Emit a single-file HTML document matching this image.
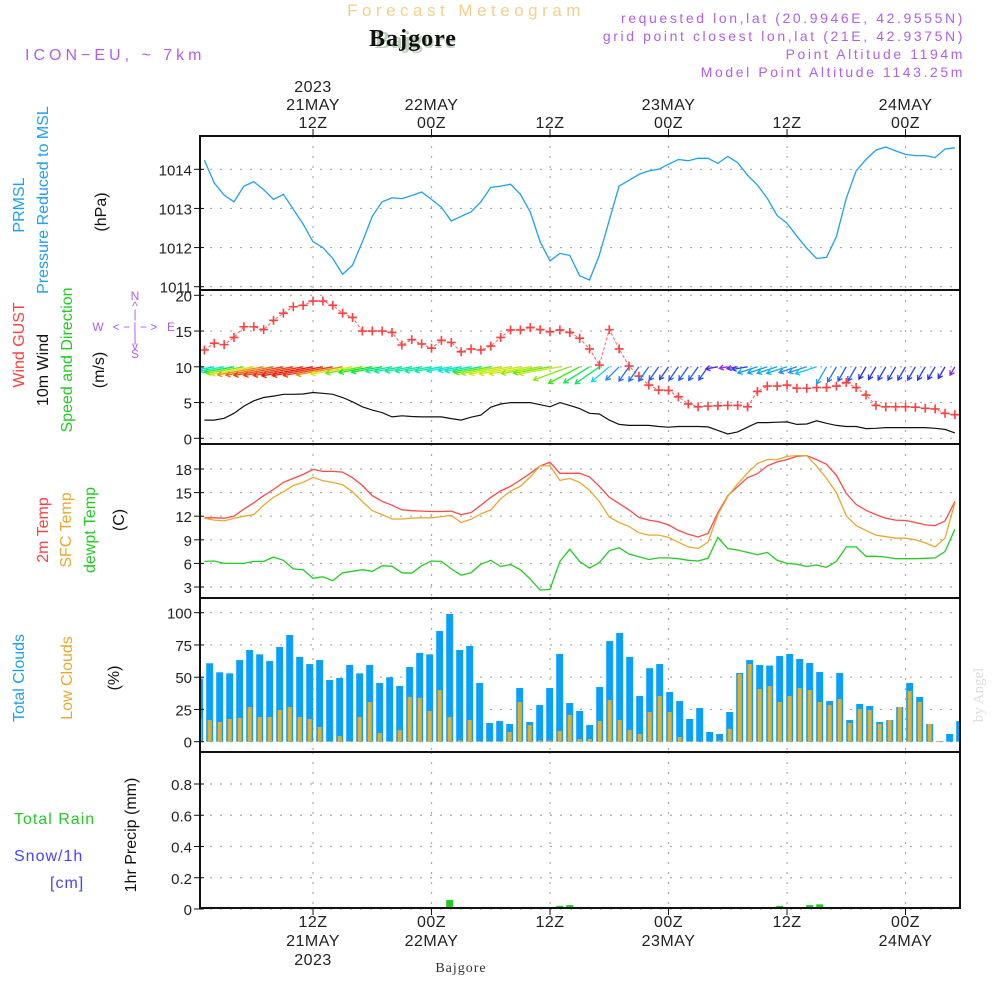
<!DOCTYPE html>
<html><head><meta charset="utf-8"><style>
html,body{margin:0;padding:0;background:#fff;}
svg{display:block;font-family:"Liberation Sans",sans-serif;}
.t{font-size:15px;fill:#222;}
</style></head><body>
<svg id="chart" width="1000" height="1000" viewBox="0 0 1000 1000">
<defs><clipPath id="plotclip"><rect x="200" y="136" width="760" height="772"/></clipPath></defs>
<text x="466" y="16" text-anchor="middle" style="font-size:17px;fill:#f3cf8c;letter-spacing:4.5px">Forecast Meteogram</text>
<text x="415" y="48" text-anchor="middle" style="font-family:'Liberation Serif',serif;font-size:24px;font-weight:bold;fill:#bcd0bc">Bajgore</text>
<text x="413" y="46" text-anchor="middle" style="font-family:'Liberation Serif',serif;font-size:24px;font-weight:bold;fill:#111;letter-spacing:1px">Bajgore</text>
<text x="25" y="60" style="font-size:16px;fill:#b060e8;letter-spacing:4px">ICON−EU, ~ 7km</text>
<g style="font-size:14px;fill:#b060e8;letter-spacing:2.6px" text-anchor="end">
<text x="965" y="23">requested lon,lat (20.9946E, 42.9555N)</text>
<text x="965" y="41">grid point closest lon,lat (21E, 42.9375N)</text>
<text x="965" y="59">Point Altitude 1194m</text>
<text x="965" y="77">Model Point Altitude 1143.25m</text>
</g>
<g id="grid"></g>
<g id="marks" clip-path="url(#plotclip)"></g>
<g id="frames"></g>
<g id="labels"></g>
<g style="font-size:16px">
<text transform="translate(24,205) rotate(-90)" text-anchor="middle" fill="#1ea0f0">PRMSL</text>
<text transform="translate(48,200) rotate(-90)" text-anchor="middle" fill="#1ea0f0">Pressure Reduced to MSL</text>
<text transform="translate(106,212) rotate(-90)" text-anchor="middle" fill="#111">(hPa)</text>
<text transform="translate(24,345) rotate(-90)" text-anchor="middle" fill="#ff4040">Wind GUST</text>
<text transform="translate(48,370) rotate(-90)" text-anchor="middle" fill="#111">10m Wind</text>
<text transform="translate(72,360) rotate(-90)" text-anchor="middle" fill="#22cc22">Speed and Direction</text>
<text transform="translate(104,370) rotate(-90)" text-anchor="middle" fill="#111">(m/s)</text>
<text transform="translate(48,530) rotate(-90)" text-anchor="middle" fill="#ff4040">2m Temp</text>
<text transform="translate(71,530) rotate(-90)" text-anchor="middle" fill="#e8a830">SFC Temp</text>
<text transform="translate(95,530) rotate(-90)" text-anchor="middle" fill="#22cc22">dewpt Temp</text>
<text transform="translate(124,520) rotate(-90)" text-anchor="middle" fill="#111">(C)</text>
<text transform="translate(24,678) rotate(-90)" text-anchor="middle" fill="#1ea0f0">Total Clouds</text>
<text transform="translate(72,678) rotate(-90)" text-anchor="middle" fill="#e8a830">Low Clouds</text>
<text transform="translate(119,678) rotate(-90)" text-anchor="middle" fill="#111">(%)</text>
<text transform="translate(136,835) rotate(-90)" text-anchor="middle" fill="#111">1hr Precip (mm)</text>
<text x="14" y="824" fill="#22cc22" style="letter-spacing:1px">Total  Rain</text>
<text x="14" y="861" fill="#4444ff" style="letter-spacing:1px">Snow/1h</text>
<text x="50" y="888" fill="#4444ff" style="letter-spacing:1px">[cm]</text>
</g>
<g style="font-size:12px;fill:#b060e8" text-anchor="middle">
<text x="135" y="300">N</text><text x="135" y="310">^</text><text x="135" y="318">|</text>
<text x="98" y="331">W</text><text x="135" y="331">&lt; − | − &gt;</text><text x="171" y="331">E</text>
<text x="135" y="342">|</text><text x="135" y="350">v</text><text x="135" y="358">S</text>
</g>
<text transform="translate(983,695) rotate(-90)" text-anchor="middle" style="font-family:'Liberation Serif',serif;font-size:15px;fill:#ddd">by Angel</text>
<text x="461" y="972" text-anchor="middle" style="font-family:'Liberation Serif',serif;font-size:14px;fill:#333;letter-spacing:1px">Bajgore</text>
</svg>
<script>
const pressure=[1014.23,1013.65,1013.34,1013.17,1013.57,1013.68,1013.48,1013.23,1013.36,1012.98,1012.60,1012.15,1012.00,1011.72,1011.32,1011.55,1012.15,1012.80,1013.17,1013.27,1013.25,1013.33,1013.42,1013.23,1013.03,1012.68,1012.80,1012.91,1013.17,1013.54,1013.57,1013.62,1013.36,1012.91,1012.15,1011.66,1011.85,1011.80,1011.28,1011.17,1011.81,1012.70,1013.57,1013.72,1013.87,1013.96,1014.00,1014.13,1014.25,1014.22,1014.28,1014.28,1014.15,1014.33,1014.17,1013.85,1013.60,1013.26,1012.82,1012.62,1012.29,1011.98,1011.72,1011.75,1012.28,1013.26,1013.96,1014.25,1014.49,1014.57,1014.47,1014.38,1014.35,1014.35,1014.30,1014.52,1014.55];
const gust=[12.35,13.3,13.1,14.1,15.6,15.6,15.2,16.5,17.5,18.4,18.6,19.2,19.2,18.6,17.5,16.9,15.0,15.0,15.0,14.8,13.05,13.8,13.2,12.6,13.7,13.4,12.1,12.5,12.35,12.9,14.1,15.15,15.15,15.5,15.2,14.9,15.15,14.8,14.0,12.5,10.25,15.2,12.5,10.1,8.7,7.45,6.75,6.7,5.8,4.8,4.4,4.5,4.55,4.6,4.6,4.4,6.55,7.3,7.3,7.45,7.0,7.0,7.1,7.1,7.3,7.8,7.1,6.05,4.6,4.4,4.4,4.4,4.35,4.2,4.1,3.5,3.3];
const wind10=[2.55,2.55,2.8,3.5,4.5,5.25,5.7,5.9,6.15,6.15,6.2,6.4,6.3,6.15,5.7,5.1,4.4,3.95,3.6,3.0,3.15,3.05,3.0,3.0,3.0,2.75,2.55,2.95,3.25,4.35,4.8,5.0,5.0,5.0,4.7,4.4,5.0,4.6,4.15,3.5,3.4,2.55,1.95,1.8,1.8,1.8,1.65,1.55,1.65,1.65,1.65,1.6,1.1,0.6,0.9,1.55,2.2,2.2,2.25,2.3,1.95,2.0,2.45,2.1,1.8,1.65,1.65,1.35,1.4,1.5,1.5,1.5,1.5,1.5,1.4,1.25,0.75];
const windDir=[80,80,80,80,80,80,80,80,80,80,80,80,80,80,80,80,80,80,80,80,80,80,80,80,80,80,80,80,80,80,80,80,80,80,80,80,80,70,62,58,55,50,45,35,35,35,35,35,35,35,35,35,80,80,80,80,72,72,72,72,72,72,72,30,30,30,30,30,30,30,30,30,30,30,30,30,30];
const temp2m=[11.8,11.8,11.75,12.0,12.9,13.7,14.6,15.4,16.3,16.8,17.3,17.95,17.7,17.7,17.6,16.9,15.9,14.6,13.9,13.4,12.8,12.7,12.65,12.6,12.6,12.65,12.2,12.45,13.4,14.4,15.2,15.8,16.6,17.45,18.4,18.85,17.45,17.45,17.45,17.0,15.8,14.4,13.6,12.8,11.85,11.5,11.3,10.9,10.2,9.7,9.35,9.8,12.45,14.6,15.75,16.9,17.4,18.4,18.9,19.2,19.6,19.7,19.2,18.6,17.2,14.9,13.5,12.75,12.2,11.75,11.5,11.45,11.2,10.9,10.8,11.4,13.85];
const tempSfc=[11.75,11.5,11.4,11.75,12.0,12.2,13.4,14.4,15.1,15.9,16.3,16.95,16.5,16.3,16.0,15.1,13.85,12.7,12.2,11.65,11.65,11.75,11.8,11.8,11.95,12.1,11.2,11.6,12.3,12.8,14.2,15.2,15.8,17.0,18.4,18.4,16.55,16.8,16.3,15.3,13.85,11.9,11.2,10.7,9.9,9.6,9.6,9.3,8.7,8.1,7.9,8.7,12.2,14.5,16.1,17.5,18.7,19.2,19.2,19.6,19.7,19.7,18.35,16.8,15.0,12.05,10.8,10.2,9.6,9.4,9.2,9.2,9.0,8.6,8.1,9.2,13.7];
const dewpt=[6.25,6.3,6.0,6.0,6.0,6.25,6.25,6.8,6.4,5.3,5.2,4.1,4.3,3.8,4.8,5.0,5.2,5.0,5.7,5.65,4.8,4.75,5.7,6.3,6.25,5.3,4.5,4.8,5.9,6.4,5.6,5.85,5.2,4.0,2.6,2.7,6.25,7.8,6.25,5.4,6.1,7.6,8.0,7.2,6.85,6.5,6.7,6.7,6.6,6.4,6.3,6.65,9.3,7.9,7.7,7.4,7.1,7.4,6.4,6.0,5.9,5.6,5.8,5.5,6.25,8.1,8.1,6.9,6.9,6.8,6.6,6.6,6.6,6.65,6.7,7.5,10.35];
const totalClouds=[49,60.8,53.8,53,63.3,71.1,67.7,62.5,73.4,82.7,65.7,60.2,63.3,47.8,49.4,59.5,53,59.5,45.5,50,43.2,57.9,68.8,67.7,85.8,99,71.1,74.2,45.5,14.5,16,13.7,41.6,15.3,28.4,41.6,68,30,23.8,12.9,42.4,78,84.3,65.7,35.4,57,60.2,38.5,31.5,17.6,26.1,7.5,6,23,53.3,63.3,59.5,59,66.4,68,64.1,61,54,31.5,53.3,16.8,29.2,27.7,15.3,16.8,26.9,45.5,34.7,13.7,0.5,6,16];
const lowClouds=[18,16.8,15.3,17.6,18.4,26.9,19.1,19.1,24.6,26.9,19.1,17.6,11.4,0.5,4.4,0.5,19.1,30.8,6.7,0.5,9,34.7,34,23.8,40,19.1,1,16.8,0.5,0.5,0.5,7.5,30.8,12.9,1,1,8.3,20.7,2,2,16,32.3,16.8,9,6,23,35.4,23,3.6,0.5,0,0,1,10,52.5,60.2,40.8,43.2,30.8,35.4,41.6,40,30.8,28.4,33,14.5,25.3,24.6,13.7,16.8,26.9,39.3,30.8,13.7,0.5,0,0];
const precipIndex=[25,36,37,58,61,62];
const precipValues=[0.057,0.02,0.025,0.02,0.025,0.03];
const pressureTicks=[1011,1012,1013,1014];
const windTicks=[0,5,10,15,20];
const tempTicks=[3,6,9,12,15,18];
const cloudTicks=[0,25,50,75,100];
const precipTicks=[0,0.2,0.4,0.6,0.8];
const timeTicks=[11,23,35,47,59,71];
const topTickLabels=[["2023","21MAY","12Z"],["","22MAY","00Z"],["","","12Z"],["","23MAY","00Z"],["","","12Z"],["","24MAY","00Z"]];
const bottomTickLabels=[["12Z","21MAY","2023"],["00Z","22MAY",""],["12Z","",""],["00Z","23MAY",""],["12Z","",""],["00Z","24MAY",""]];

const NS='http://www.w3.org/2000/svg';
const X0=200,X1=960;
const xT=i=>204.4+9.875*i;
const xB=j=>199.7+(X1-X0)/76*j;
function lin(d0,d1,r0,r1){return v=>r0+(v-d0)*(r1-r0)/(d1-d0);}
const yP=lin(1011,1014,286.7,169.3);
const yW=lin(0,20,438.3,295.3);
const yTm=lin(3,18,587,469);
const yC=lin(0,100,741.7,612.7);
const yR=lin(0,0.8,909,784);
const grid=document.getElementById('grid'),marks=document.getElementById('marks'),frames=document.getElementById('frames'),labels=document.getElementById('labels');
function el(tag,attrs,parent){const e=document.createElementNS(NS,tag);for(const k in attrs)e.setAttribute(k,attrs[k]);parent.appendChild(e);return e;}
const panels=[[136,290,pressureTicks,yP,v=>String(v)],[290,444,windTicks,yW,v=>String(v)],[444,598,tempTicks,yTm,v=>String(v)],[598,752,cloudTicks,yC,v=>String(v)],[752,908,precipTicks,yR,v=>v===0?'0':v.toFixed(1)]];
panels.forEach((p,pi)=>{
  p[2].forEach(v=>{
    const y=p[3](v);
    const g=el('line',{x1:X0,x2:X1,y1:y,y2:y,stroke:'#aaa','stroke-width':1.2,'stroke-dasharray':'2,8'},grid);
    
    
    const tk=el('line',{x1:X0-6,x2:X0+4,y1:y,y2:y,stroke:'#111','stroke-width':1},frames);
    
    
    const t=el('text',{x:X0-8,y:y+6,'text-anchor':'end',class:'t'},labels);
    t.textContent=p[4](v);
    
    
  });
  timeTicks.forEach(h=>{
    const x=xT(h);
    const g=el('line',{x1:x,x2:x,y1:p[0],y2:p[1],stroke:'#aaa','stroke-width':1.2,'stroke-dasharray':'2,8'},grid);
    
    
  });
  const r=el('rect',{x:X0,y:p[0],width:X1-X0,height:p[1]-p[0],fill:'none',stroke:'#111','stroke-width':2},frames);
  
  
});
timeTicks.forEach((h,k)=>{
  const x=xT(h);
  el('line',{x1:x,x2:x,y1:129,y2:136,stroke:'#111'},frames);
  el('line',{x1:x,x2:x,y1:908,y2:915,stroke:'#111'},frames);
  topTickLabels[k].forEach((s,r)=>{if(!s)return;const t=el('text',{x:x,y:92+r*18,'text-anchor':'middle',class:'t',style:'font-size:16px;letter-spacing:0.5px'},labels);t.textContent=s;
    
    });
  bottomTickLabels[k].forEach((s,r)=>{if(!s)return;const t=el('text',{x:x,y:927+r*19,'text-anchor':'middle',class:'t',style:'font-size:16px;letter-spacing:0.5px'},labels);t.textContent=s;
    
    });
});
function line(arr,yf,color,w,name,dash){
  const d=arr.map((v,i)=>(i?'L':'M')+xT(i).toFixed(1)+' '+yf(v).toFixed(1)).join(' ');
  const p=el('path',{d:d,fill:'none',stroke:color,'stroke-width':w},marks);
  if(dash)p.setAttribute('stroke-dasharray',dash);
  
  
}
totalClouds.forEach((v,j)=>{
  const r=el('rect',{x:xB(j)-3.5,y:yC(v),width:7,height:yC(0)-yC(v),fill:'#0aa0f8'},marks);
  
  
});
lowClouds.forEach((v,j)=>{
  const r=el('rect',{x:xB(j)-2,y:yC(v),width:4,height:yC(0)-yC(v),fill:'#e8ac2c'},marks);
  
  
});
precipIndex.forEach((j,k)=>{
  const v=precipValues[k];
  const r=el('rect',{x:xB(j)-3.5,y:yR(v),width:7,height:yR(0)-yR(v),fill:'#22cc22'},marks);
  
  
});
el('line',{x1:X0,x2:X1,y1:yR(0)-0.5,y2:yR(0)-0.5,stroke:'#333','stroke-width':1.5},marks);
line(pressure,yP,'#1ea0f0',1.3,'pressure-line');
line(temp2m,yTm,'#ff4848',1.3,'temp-2m-line');
line(tempSfc,yTm,'#e8a830',1.3,'temp-sfc-line');
line(dewpt,yTm,'#22cc22',1.3,'dewpoint-line');
line(wind10,yW,'#111',1.2,'wind-10m-line');
line(gust,yW,'#ff6060',1,'gust-line','3,2');
gust.forEach((v,i)=>{
  const x=xT(i),y=yW(v);
  const c=el('path',{d:`M${x-4.5} ${y}H${x+4.5}M${x} ${y-4.5}V${y+4.5}`,stroke:'#ff4040','stroke-width':1.6},marks);
  
  
});
wind10.forEach((s,i)=>{
  const to=(windDir[i]+180)*Math.PI/180;
  const L=7.5*s+4;
  const dx=Math.sin(to),dy=-Math.cos(to);
  const x0=xT(i),y0=yW(10);
  const x1=x0+dx*L,y1=y0+dy*L;
  const hue=Math.max(0,Math.min(275,275-(s-0.6)*47));
  const col=`hsl(${hue},90%,${hue>200?55:48}%)`;
  const a=Math.atan2(dy,dx),h=5;
  const d=`M${x0} ${y0}L${x1} ${y1}M${x1+h*Math.cos(a+2.6)} ${y1+h*Math.sin(a+2.6)}L${x1} ${y1}L${x1+h*Math.cos(a-2.6)} ${y1+h*Math.sin(a-2.6)}`;
  const p=el('path',{d:d,fill:'none',stroke:col,'stroke-width':1.3},marks);
  
  
});
</script>
</body></html>
